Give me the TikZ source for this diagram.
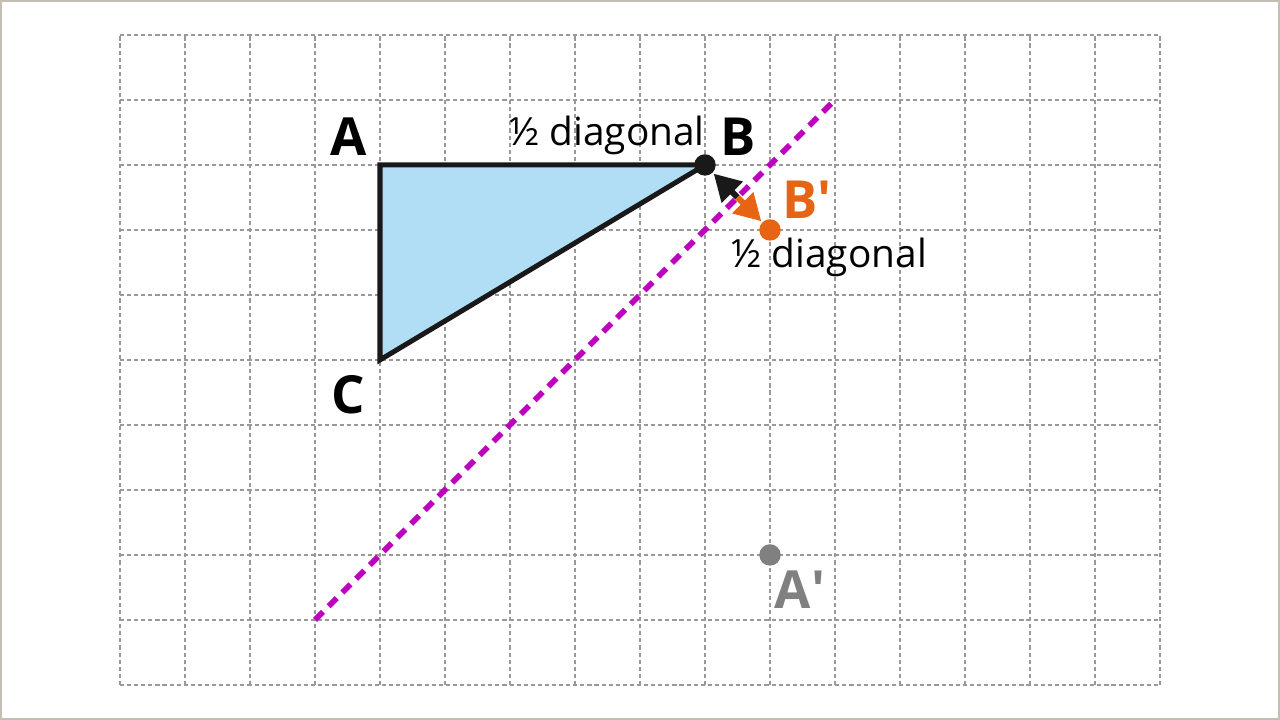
\documentclass[tikz,border=0pt]{standalone}
\usepackage{fontspec}
\setmainfont{Open Sans}
\usepackage{xcolor}
\usetikzlibrary{arrows.meta, positioning, calc}

\definecolor{shapeblue}{RGB}{178,222,245}
\definecolor{mirrorpink}{RGB}{190,0,190}
\definecolor{imageorange}{RGB}{230,100,20}
\definecolor{framegrey}{RGB}{196,190,180}

\tikzset{
  gridline/.style={draw=black!40, line width=0.6pt, dash pattern=on 1.8pt off 1.3pt},
  vertexlabel/.style={font=\fontsize{23}{23}\selectfont\bfseries},
  notelabel/.style={font=\fontsize{17}{17}\selectfont},
  dotmark/.style={circle, inner sep=0pt, minimum size=0.33cm},
  halfarrow/.style={line width=2.6pt, -{Triangle[length=11.5pt,width=12.5pt]}}
}

\begin{document}
\begin{tikzpicture}[x=1cm, y=1cm]
\useasboundingbox (-1.846,-0.538) rectangle (17.846,10.538);
\draw[framegrey, line width=1.4pt] (-1.846,-0.538) rectangle (17.846,10.538);
\draw[gridline] (0,0) grid (16,10);

% the shape
\coordinate (A) at (4,8);
\coordinate (B) at (9,8);
\coordinate (C) at (4,5);
\filldraw[fill=shapeblue, draw=black!90, line width=2.2pt, line join=miter] (A) -- (B) -- (C) -- cycle;

% mirror line
\coordinate (m1) at (3,1);
\coordinate (m2) at (11,9);
\draw[mirrorpink, line width=2.5pt, dash pattern=on 5pt off 3.5pt] (m1) -- (m2);

% image points
\node[dotmark, fill=black!90] (Bdot) at (B) {};
\node[dotmark, fill=imageorange] (Bimg) at (10,7) {};
\node[dotmark, fill=black!50] (Aimg) at (10,2) {};

\coordinate (mid) at ($(B)!0.5!(Bimg)$);
\draw[halfarrow, black!90, shorten >=0.5pt] (mid) -- (Bdot);
\draw[halfarrow, imageorange, shorten >=0.5pt] (mid) -- (Bimg);

% labels
\node[vertexlabel] (Alabel) at (3.51,8.43) {A};
\node[vertexlabel] (Blabel) at (9.51,8.43) {B};
\node[vertexlabel] (Clabel) at (3.51,4.46) {C};
\node[vertexlabel, text=imageorange] (Bimglabel) at (10.57,7.46) {B\textquotesingle};
\node[vertexlabel, text=black!50] (Aimglabel) at (10.46,1.46) {A\textquotesingle};
\node[notelabel, anchor=east] (topnote) at (9.12,8.46) {½ diagonal};
\node[notelabel, anchor=west] (sidenote) at (9.28,6.58) {½ diagonal};
\end{tikzpicture}
\end{document}
